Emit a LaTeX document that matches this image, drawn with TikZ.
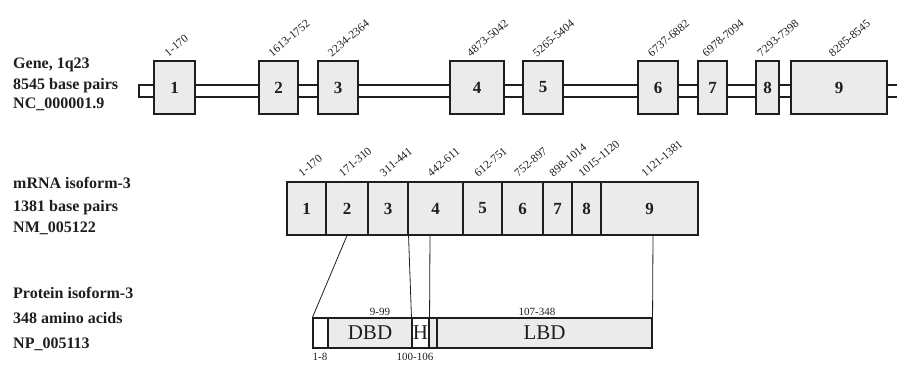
\documentclass[tikz,border=0pt]{standalone}
\usepackage{fontspec}
\setmainfont{Liberation Serif}
\definecolor{ink}{HTML}{1E1E1E}
\definecolor{boxgray}{HTML}{EBEBEB}
\begin{document}
\begin{tikzpicture}[x=1pt,y=-1pt,
  lbl/.style={anchor=base west, inner sep=0pt, font=\fontsize{16}{16}\selectfont\bfseries, text=ink},
  gbox/.style={draw=ink, line width=1.1pt, fill=boxgray, inner sep=0pt, font=\fontsize{17}{17}\selectfont\bfseries, text=ink},
  pbox/.style={draw=ink, line width=1.1pt, fill=boxgray, inner sep=0pt, font=\fontsize{21}{21}\selectfont, text=ink},
  rot/.style={anchor=south west, inner sep=0pt, rotate=40, font=\fontsize{11.5}{11.5}\selectfont, text=ink},
  small/.style={inner sep=0pt, font=\fontsize{11}{11}\selectfont, text=ink},
  conn/.style={draw=ink, line width=0.8pt}]
\useasboundingbox (0,0) rectangle (897,365);
% left labels
\node[lbl] (t1) at (13,68) {Gene, 1q23};
\node[lbl] (t2) at (13,89) {8545 base pairs};
\node[lbl] (t3) at (13,108) {NC\_000001.9};
\node[lbl] (t4) at (13,188) {mRNA isoform-3};
\node[lbl] (t5) at (13,211) {1381 base pairs};
\node[lbl] (t6) at (13,232) {NM\_005122};
\node[lbl] (t7) at (13,298) {Protein isoform-3};
\node[lbl] (t8) at (13,323) {348 amino acids};
\node[lbl] (t9) at (13,348) {NP\_005113};
% gene backbone
\fill[white] (139,85) rectangle (897,97);
\draw[draw=ink, line width=1.1pt] (897,85) -- (139,85) -- (139,97) -- (897,97);
% gene exons
\foreach \n/\a/\b/\lab in {1/154/195/1-170, 2/259/298/1613-1752, 3/318/358/2234-2364,
  4/450/504/4873-5042, 5/523/563/5265-5404, 6/638/678/6737-6882, 7/698/727/6978-7094,
  8/756/779/7293-7398, 9/791/887/8285-8545}{
  \node[gbox, minimum width={(\b-\a)*1pt}, minimum height=53pt] (g\n) at ({(\a+\b)/2},87.5) {\n};
  \node[rot] (gl\n) at ([xshift=-6pt,yshift=3pt]g\n.north) {\lab};
}
% mRNA exons
\foreach \n/\a/\b/\lab in {1/287/326/1-170, 2/326/368/171-310, 3/368/408/311-441,
  4/408/463/442-611, 5/463/502/612-751, 6/502/543/752-897, 7/543/572/898-1014,
  8/572/601/1015-1120, 9/601/698/1121-1381}{
  \node[gbox, minimum width={(\b-\a)*1pt}, minimum height=53pt] (m\n) at ({(\a+\b)/2},208.5) {\n};
  \node[rot] (ml\n) at ([xshift=-4pt,yshift=4pt]m\n.north) {\lab};
}
% protein
\node[pbox, fill=white, minimum width=15pt, minimum height=30pt] (p0) at (320.5,333) {};
\node[pbox, minimum width=84pt, minimum height=30pt] (dbd) at (370,333) {DBD};
\node[pbox, fill=white, minimum width=17pt, minimum height=30pt] (hh) at (420.5,333) {H};
\node[pbox, minimum width=8pt, minimum height=30pt] (px) at (433,333) {};
\node[pbox, minimum width=215pt, minimum height=30pt] (lbd) at (544.5,333) {LBD};
\node[small] (l999) at (380,312) {9-99};
\node[small] (l107) at (537,312) {107-348};
\node[small] (l18) at (320,357) {1-8};
\node[small] (l100) at (415,357) {100-106};
% connectors
\coordinate (c4) at (430,235);
\coordinate (c9) at (653,235);
\draw[conn] (m2.south) -- (p0.north west);
\draw[conn] (m3.south east) -- (hh.north west);
\draw[conn] (c4) -- (hh.north east);
\draw[conn] (c9) -- (lbd.north east);
\end{tikzpicture}
\end{document}
